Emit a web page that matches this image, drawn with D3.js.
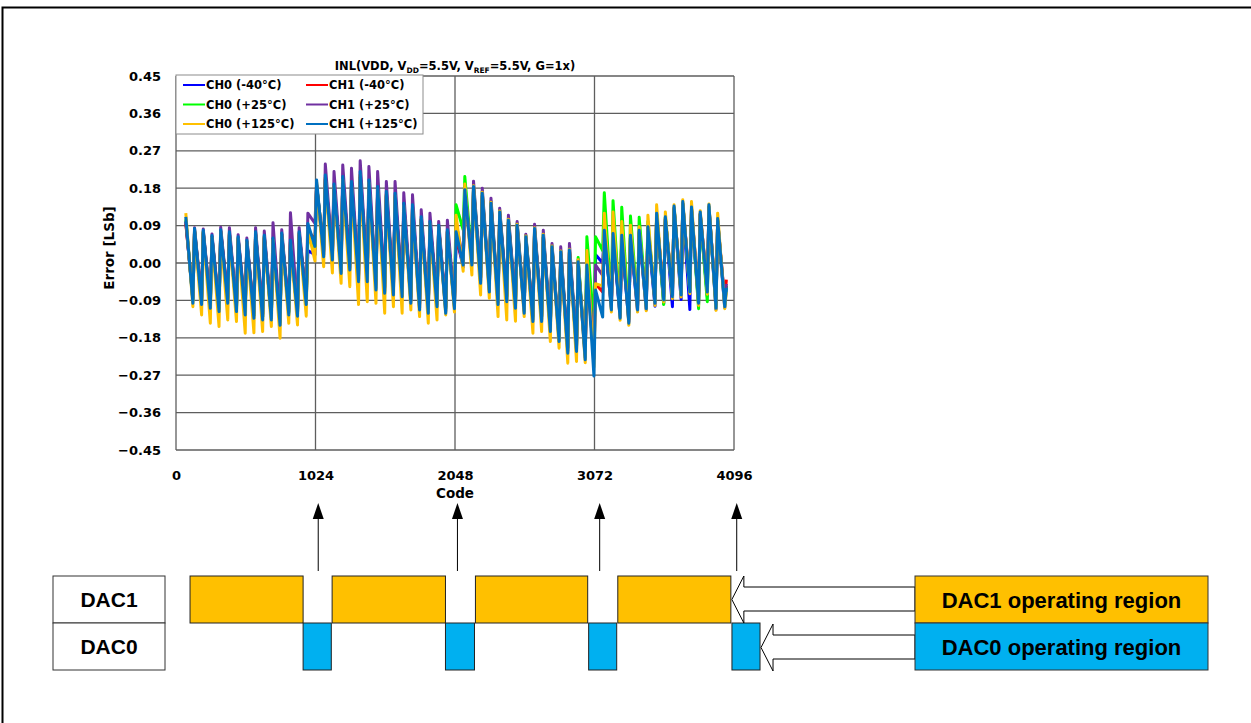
<!DOCTYPE html>
<html>
<head>
<meta charset="utf-8">
<script src="https://cdn.jsdelivr.net/npm/d3@7"></script>
<style>
  body { margin: 0; background: #fff; }
  svg { display: block; }
  .chart text { font-family: "DejaVu Sans", sans-serif; font-weight: bold; fill: #000; }
  .diagram text { font-family: "Liberation Sans", Arial, sans-serif; font-weight: bold; fill: #000; }
</style>
</head>
<body>
<svg id="page" width="1251" height="723"></svg>
<script>
// axis ticks
const xTicks = [0, 1024, 2048, 3072, 4096];
const yTicks = [-0.45, -0.36, -0.27, -0.18, -0.09, 0, 0.09, 0.18, 0.27, 0.36, 0.45];

// one value per 64-code tooth (tooth 1..63): value near the start (peak) and near the end (trough)
const ch0m40Peaks = [0.100, 0.075, 0.071, 0.058, 0.072, 0.067, 0.055, 0.047, 0.067, 0.059, 0.052, 0.064, 0.047, 0.067, 0.030,
  0.185, 0.200, 0.180, 0.196, 0.186, 0.206, 0.188, 0.174, 0.162, 0.158, 0.135, 0.131, 0.104, 0.094, 0.086, 0.075, 0.065,
  0.170, 0.178, 0.162, 0.138, 0.117, 0.097, 0.085, 0.057, 0.077, 0.061, 0.033, 0.021, 0.025, -0.003, 0.030, 0.020,
  0.072, 0.064, 0.060, 0.060, 0.072, 0.080, 0.112, 0.104, 0.129, 0.140, 0.128, 0.116, 0.132, 0.100, -0.055];
const ch0m40Troughs = [-0.090, -0.093, -0.102, -0.110, -0.090, -0.110, -0.118, -0.126, -0.130, -0.130, -0.143, -0.118, -0.121, -0.093, 0.020,
  0.020, 0.012, -0.020, -0.012, -0.040, -0.040, -0.060, -0.068, -0.072, -0.076, -0.092, -0.108, -0.116, -0.100, -0.116, -0.105, -0.010,
  0.000, -0.044, -0.065, -0.095, -0.088, -0.104, -0.116, -0.136, -0.136, -0.160, -0.184, -0.212, -0.208, -0.228, -0.210, 0.000,
  -0.110, -0.130, -0.142, -0.116, -0.113, -0.104, -0.098, -0.105, -0.088, -0.112, -0.100, -0.080, -0.112, -0.108, null];

const ch1m40Peaks = [0.095, 0.078, 0.074, 0.062, 0.076, 0.070, 0.058, 0.050, 0.070, 0.062, 0.056, 0.068, 0.050, 0.070, 0.080,
  0.188, 0.205, 0.184, 0.200, 0.190, 0.212, 0.194, 0.178, 0.166, 0.162, 0.138, 0.134, 0.106, 0.095, 0.087, 0.076, 0.060,
  0.168, 0.176, 0.160, 0.138, 0.118, 0.098, 0.086, 0.058, 0.078, 0.062, 0.034, 0.022, 0.026, 0.000, -0.020, -0.050,
  0.074, 0.066, 0.062, 0.062, 0.074, 0.082, 0.114, 0.106, 0.131, 0.142, 0.130, 0.118, 0.134, 0.102, -0.040];
const ch1m40Troughs = [-0.082, -0.085, -0.094, -0.102, -0.082, -0.102, -0.110, -0.118, -0.122, -0.122, -0.135, -0.110, -0.113, -0.085, 0.055,
  0.030, 0.022, -0.010, -0.002, -0.030, -0.030, -0.050, -0.058, -0.062, -0.066, -0.082, -0.098, -0.106, -0.090, -0.106, -0.095, 0.000,
  0.010, -0.034, -0.055, -0.085, -0.078, -0.094, -0.106, -0.126, -0.126, -0.150, -0.174, -0.202, -0.198, -0.218, -0.230, -0.070,
  -0.098, -0.118, -0.130, -0.098, -0.095, -0.082, -0.074, -0.066, -0.062, -0.054, -0.082, -0.055, -0.094, -0.090, null];

const ch0p25Peaks = [0.105, 0.080, 0.076, 0.063, 0.077, 0.072, 0.060, 0.052, 0.072, 0.064, 0.057, 0.069, 0.052, 0.072, 0.060,
  0.185, 0.200, 0.180, 0.196, 0.186, 0.206, 0.188, 0.174, 0.162, 0.158, 0.135, 0.131, 0.104, 0.094, 0.086, 0.075, 0.140,
  0.208, 0.188, 0.172, 0.148, 0.127, 0.107, 0.095, 0.066, 0.086, 0.070, 0.042, 0.030, 0.035, 0.013, 0.063, 0.063,
  0.169, 0.150, 0.134, 0.113, 0.110, 0.100, 0.118, 0.110, 0.133, 0.143, 0.130, 0.118, 0.135, 0.103, -0.055];
const ch0p25Troughs = [-0.090, -0.093, -0.102, -0.110, -0.090, -0.110, -0.118, -0.126, -0.130, -0.130, -0.143, -0.118, -0.121, -0.093, 0.035,
  0.035, 0.030, 0.000, 0.008, -0.020, -0.020, -0.040, -0.050, -0.055, -0.060, -0.080, -0.095, -0.105, -0.090, -0.110, -0.100, 0.080,
  0.010, -0.035, -0.058, -0.088, -0.082, -0.098, -0.110, -0.130, -0.130, -0.155, -0.178, -0.205, -0.202, -0.222, -0.150, 0.030,
  -0.100, -0.122, -0.135, -0.103, -0.100, -0.092, -0.100, -0.078, -0.075, -0.067, -0.110, -0.093, -0.105, -0.100, null];

const ch1p25Peaks = [0.100, 0.085, 0.082, 0.070, 0.086, 0.085, 0.068, 0.060, 0.085, 0.077, 0.097, 0.080, 0.121, 0.085, 0.120,
  0.190, 0.238, 0.220, 0.236, 0.228, 0.246, 0.232, 0.220, 0.196, 0.196, 0.169, 0.164, 0.128, 0.120, 0.100, 0.103, 0.095,
  0.180, 0.197, 0.180, 0.156, 0.132, 0.115, 0.100, 0.069, 0.093, 0.079, 0.047, 0.039, 0.047, 0.007, 0.000, -0.005,
  0.075, 0.068, 0.064, 0.064, 0.076, 0.084, 0.116, 0.108, 0.133, 0.144, 0.131, 0.119, 0.136, 0.104, -0.050];
const ch1p25Troughs = [-0.085, -0.088, -0.097, -0.105, -0.085, -0.105, -0.113, -0.121, -0.125, -0.125, -0.138, -0.113, -0.116, -0.088, 0.095,
  0.028, 0.020, -0.012, -0.004, -0.032, -0.032, -0.052, -0.060, -0.064, -0.068, -0.084, -0.100, -0.108, -0.092, -0.108, -0.098, 0.010,
  0.008, -0.036, -0.057, -0.087, -0.080, -0.096, -0.108, -0.128, -0.128, -0.152, -0.176, -0.204, -0.200, -0.220, -0.200, -0.030,
  -0.105, -0.125, -0.137, -0.105, -0.102, -0.090, -0.082, -0.074, -0.070, -0.062, -0.090, -0.063, -0.100, -0.095, null];

const ch0p125Peaks = [0.120, 0.078, 0.074, 0.061, 0.075, 0.070, 0.058, 0.050, 0.070, 0.062, 0.055, 0.067, 0.050, 0.070, 0.080,
  0.195, 0.205, 0.185, 0.200, 0.190, 0.212, 0.193, 0.178, 0.166, 0.162, 0.138, 0.134, 0.106, 0.095, 0.087, 0.076, 0.115,
  0.190, 0.186, 0.170, 0.146, 0.125, 0.105, 0.093, 0.065, 0.085, 0.069, 0.041, 0.029, 0.033, 0.008, 0.030, -0.050,
  0.120, 0.123, 0.100, 0.091, 0.087, 0.115, 0.140, 0.123, 0.140, 0.152, 0.148, 0.126, 0.142, 0.120, -0.070];
const ch0p125Troughs = [-0.105, -0.125, -0.145, -0.153, -0.137, -0.141, -0.169, -0.168, -0.165, -0.153, -0.181, -0.145, -0.149, -0.128, 0.005,
  -0.009, -0.024, -0.049, -0.057, -0.100, -0.093, -0.097, -0.121, -0.105, -0.121, -0.113, -0.129, -0.145, -0.137, -0.125, -0.118, -0.020,
  -0.029, -0.077, -0.085, -0.129, -0.137, -0.140, -0.129, -0.169, -0.165, -0.189, -0.205, -0.241, -0.237, -0.240, -0.250, -0.055,
  -0.118, -0.138, -0.150, -0.118, -0.115, -0.102, -0.094, -0.086, -0.082, -0.074, -0.102, -0.075, -0.114, -0.110, null];

const ch1p125Peaks = [0.111, 0.083, 0.079, 0.066, 0.080, 0.075, 0.063, 0.055, 0.075, 0.067, 0.060, 0.072, 0.055, 0.075, 0.095,
  0.200, 0.212, 0.190, 0.208, 0.196, 0.220, 0.200, 0.184, 0.172, 0.168, 0.144, 0.140, 0.111, 0.100, 0.091, 0.080, 0.075,
  0.176, 0.184, 0.168, 0.144, 0.123, 0.103, 0.091, 0.063, 0.083, 0.067, 0.039, 0.027, 0.031, 0.003, -0.005, -0.065,
  0.079, 0.071, 0.067, 0.067, 0.079, 0.087, 0.120, 0.111, 0.137, 0.148, 0.135, 0.123, 0.140, 0.107, -0.060];
const ch1p125Troughs = [-0.097, -0.100, -0.109, -0.117, -0.097, -0.117, -0.125, -0.133, -0.137, -0.137, -0.150, -0.125, -0.128, -0.100, 0.040,
  0.015, 0.007, -0.025, -0.017, -0.045, -0.045, -0.065, -0.073, -0.077, -0.081, -0.097, -0.113, -0.121, -0.105, -0.121, -0.110, -0.005,
  -0.005, -0.049, -0.070, -0.100, -0.093, -0.109, -0.121, -0.141, -0.141, -0.165, -0.189, -0.217, -0.213, -0.233, -0.272, -0.130,
  -0.113, -0.133, -0.145, -0.113, -0.110, -0.097, -0.089, -0.081, -0.077, -0.069, -0.097, -0.070, -0.109, -0.105, null];

const seriesNames = ["CH0 (-40°C)", "CH1 (-40°C)", "CH0 (+25°C)", "CH1 (+25°C)", "CH0 (+125°C)", "CH1 (+125°C)"];
const seriesColors = ["#0000FF", "#FF0000", "#00FF00", "#7030A0", "#FFC000", "#0070C0"];

// DAC operating regions (in code units) for the schematic below the chart
const dac1Spans = [[103, 933], [1146, 1978], [2198, 3022], [3243, 4073]];
const dac0Spans = [[933, 1140], [1978, 2191], [3029, 3235], [4081, 4287]];
const arrowCodes = [1044, 2066, 3110, 4116];

const series = [
  { peaks: ch0m40Peaks, troughs: ch0m40Troughs },
  { peaks: ch1m40Peaks, troughs: ch1m40Troughs },
  { peaks: ch0p25Peaks, troughs: ch0p25Troughs },
  { peaks: ch1p25Peaks, troughs: ch1p25Troughs },
  { peaks: ch0p125Peaks, troughs: ch0p125Troughs },
  { peaks: ch1p125Peaks, troughs: ch1p125Troughs }
].map((s, i) => ({ name: seriesNames[i], color: seriesColors[i], ...s }));

const svg = d3.select("#page");

// outer frame
svg.append("rect")
  .attr("x", 2.5).attr("y", 7.5)
  .attr("width", 1270).attr("height", 740)
  .attr("fill", "none").attr("stroke", "#000").attr("stroke-width", 2);

// ---------- chart ----------
const x = d3.scaleLinear().domain([0, 4096]).range([176, 734]);
const y = d3.scaleLinear().domain([-0.45, 0.45]).range([450, 76]);

const chart = svg.append("g").attr("class", "chart");

// grid
chart.append("g").selectAll("line")
  .data(yTicks)
  .enter().append("line")
  .attr("x1", x(0)).attr("x2", x(4096))
  .attr("y1", d => y(d)).attr("y2", d => y(d))
  .attr("stroke", "#5e5e5e").attr("stroke-width", 1.3);

chart.append("g").selectAll("line")
  .data(xTicks)
  .enter().append("line")
  .attr("x1", d => x(d)).attr("x2", d => x(d))
  .attr("y1", y(0.45)).attr("y2", y(-0.45))
  .attr("stroke", "#5e5e5e").attr("stroke-width", 1.3);

// axes (labels only)
const yAxis = chart.append("g")
  .attr("transform", `translate(${x(0)},0)`)
  .call(d3.axisLeft(y).tickValues(yTicks).tickFormat(d3.format(".2f")).tickSize(0).tickPadding(15));
yAxis.select(".domain").remove();
yAxis.selectAll("text").attr("font-family", null).style("font-size", "13px");

const xAxis = chart.append("g")
  .attr("transform", `translate(0,${y(-0.45)})`)
  .call(d3.axisBottom(x).tickValues(xTicks).tickFormat(d3.format("d")).tickSize(0).tickPadding(21));
xAxis.select(".domain").remove();
xAxis.selectAll("text").attr("font-family", null).style("font-size", "13px");

chart.append("text")
  .attr("x", 455).attr("y", 498)
  .attr("text-anchor", "middle")
  .style("font-size", "13.5px")
  .text("Code");

chart.append("text")
  .attr("transform", "translate(114,248) rotate(-90)")
  .attr("text-anchor", "middle")
  .style("font-size", "13.5px")
  .text("Error [LSb]");

// title with subscripts
const title = chart.append("text")
  .attr("x", 455).attr("y", 70)
  .attr("text-anchor", "middle")
  .style("font-size", "11.5px");
title.append("tspan").text("INL(VDD, V");
title.append("tspan").attr("dy", 3).style("font-size", "7.5px").text("DD");
title.append("tspan").attr("dy", -3).text("=5.5V, V");
title.append("tspan").attr("dy", 3).style("font-size", "7.5px").text("REF");
title.append("tspan").attr("dy", -3).text("=5.5V,  G=1x)");

// series lines
const toPoints = s => {
  const pts = [];
  s.peaks.forEach((p, i) => {
    const start = (i + 1) * 64;
    pts.push([start + 8, p]);
    if (s.troughs[i] !== null) pts.push([start + 60, s.troughs[i]]);
  });
  return pts;
};

const line = d3.line()
  .x(d => x(d[0]))
  .y(d => y(d[1]));

chart.append("g").selectAll("path")
  .data(series)
  .enter().append("path")
  .attr("d", d => line(toPoints(d)))
  .attr("fill", "none")
  .attr("stroke", d => d.color)
  .attr("stroke-width", 3)
  .attr("stroke-linejoin", "round");

// legend
const legend = chart.append("g").attr("transform", "translate(176,75)");
legend.append("rect")
  .attr("width", 247).attr("height", 59)
  .attr("fill", "#fff").attr("stroke", "#8c8c8c").attr("stroke-width", 1);

const entries = legend.selectAll("g.entry")
  .data(series)
  .enter().append("g")
  .attr("class", "entry")
  .attr("transform", (d, i) => `translate(${(i % 2) * 123},${10 + Math.floor(i / 2) * 19.5})`);
entries.append("line")
  .attr("x1", 7).attr("x2", 29)
  .attr("stroke", d => d.color).attr("stroke-width", 2);
entries.append("text")
  .attr("x", 30).attr("y", 4)
  .style("font-size", "11.5px")
  .text(d => d.name);

// ---------- DAC schematic ----------
const diagram = svg.append("g").attr("class", "diagram");
const rowTop = 576, rowMid = 623, rowBot = 670;

// row labels
[["DAC1", rowTop, rowMid], ["DAC0", rowMid, rowBot]].forEach(([label, t, b]) => {
  diagram.append("rect")
    .attr("x", 53).attr("y", t).attr("width", 112).attr("height", b - t)
    .attr("fill", "#fff").attr("stroke", "#333").attr("stroke-width", 1);
  diagram.append("text")
    .attr("x", 109).attr("y", (t + b) / 2 + 7.5)
    .attr("text-anchor", "middle")
    .style("font-size", "21px")
    .text(label);
});

// vertical arrows under the code boundaries
diagram.selectAll("line.up")
  .data(arrowCodes)
  .enter().append("line")
  .attr("class", "up")
  .attr("x1", d => x(d)).attr("x2", d => x(d))
  .attr("y1", 571).attr("y2", 517)
  .attr("stroke", "#000").attr("stroke-width", 1);
diagram.selectAll("path.head")
  .data(arrowCodes)
  .enter().append("path")
  .attr("class", "head")
  .attr("d", d => `M${x(d)},503 L${x(d) + 5.5},519 L${x(d) - 5.5},519 Z`)
  .attr("fill", "#000");

// operating region bars
diagram.selectAll("rect.dac1")
  .data(dac1Spans)
  .enter().append("rect")
  .attr("class", "dac1")
  .attr("x", d => x(d[0])).attr("width", d => x(d[1]) - x(d[0]))
  .attr("y", rowTop).attr("height", rowMid - rowTop)
  .attr("fill", "#FFC000").attr("stroke", "#222").attr("stroke-width", 1);
diagram.selectAll("rect.dac0")
  .data(dac0Spans)
  .enter().append("rect")
  .attr("class", "dac0")
  .attr("x", d => x(d[0])).attr("width", d => x(d[1]) - x(d[0]))
  .attr("y", rowMid).attr("height", rowBot - rowMid)
  .attr("fill", "#00B0F0").attr("stroke", "#222").attr("stroke-width", 1);

// hollow arrows from the region key to the last bars
const boxLeft = 915, boxRight = 1208;
const hollowArrow = (tipX, t, b) => {
  const mid = (t + b) / 2, baseX = tipX + 12;
  return `M${tipX},${mid} L${baseX},${t} L${baseX},${t + 11} L${boxLeft},${t + 11}` +
    ` L${boxLeft},${b - 12} L${baseX},${b - 12} L${baseX},${b} Z`;
};
diagram.append("path")
  .attr("d", hollowArrow(x(dac1Spans[3][1]) + 1, rowTop, rowMid))
  .attr("fill", "#fff").attr("stroke", "#000").attr("stroke-width", 1);
diagram.append("path")
  .attr("d", hollowArrow(x(dac0Spans[3][1]) + 1, rowMid + 1, rowBot + 1))
  .attr("fill", "#fff").attr("stroke", "#000").attr("stroke-width", 1);

// region key
[["DAC1 operating region", "#FFC000", rowTop, rowMid], ["DAC0 operating region", "#00B0F0", rowMid, rowBot]]
  .forEach(([label, color, t, b]) => {
    diagram.append("rect")
      .attr("x", boxLeft).attr("y", t).attr("width", boxRight - boxLeft).attr("height", b - t)
      .attr("fill", color).attr("stroke", "#333").attr("stroke-width", 1);
    diagram.append("text")
      .attr("x", (boxLeft + boxRight) / 2).attr("y", (t + b) / 2 + 8)
      .attr("text-anchor", "middle")
      .style("font-size", "22px")
      .text(label);
  });
</script>
</body>
</html>
